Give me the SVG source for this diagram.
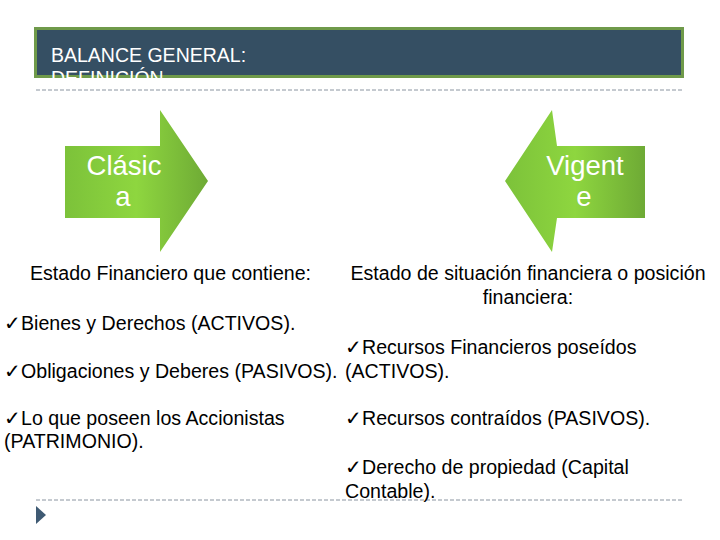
<svg xmlns="http://www.w3.org/2000/svg" width="720" height="540" viewBox="0 0 720 540">
<style>
text{font-family:"Liberation Sans",Arial,sans-serif;fill:#000;font-size:19.6px}
.w{fill:#fff;font-size:27.5px}
.d{stroke:#8a94a0;stroke-width:1;stroke-dasharray:4 2;fill:none}
</style>
<defs>
<linearGradient id="g" x1="0" x2="1"><stop offset="0" stop-color="#7cc23a"/><stop offset="0.5" stop-color="#8ed63f"/><stop offset="1" stop-color="#6eaa35"/></linearGradient>
<clipPath id="c"><rect x="34" y="27" width="650" height="51"/></clipPath>
</defs>
<g id="title">
<rect x="35.5" y="28.5" width="647" height="48" fill="#354f63" stroke="#6f9a4a" stroke-width="3"/>
<g clip-path="url(#c)"><text x="51" y="62" style="fill:#fff;font-size:19.5px">BALANCE GENERAL:</text><text x="51" y="85" style="fill:#fff;font-size:19.5px">DEFINICIÓN</text></g>
</g>
<g id="lines">
<line class="d" x1="36" y1="90" x2="684" y2="90"/>
<line class="d" x1="36" y1="500" x2="684" y2="500"/>
</g>
<g id="clasica">
<polygon points="65,146 160,146 160,110 208,181 160,252 160,218 65,218" fill="url(#g)"/>
<text class="w" x="124" y="175" text-anchor="middle">Clásic</text>
<text class="w" x="123" y="206" text-anchor="middle">a</text>
</g>
<g id="vigente">
<polygon points="645,146 557,146 552,110 505,181 552,252 557,218 645,218" fill="url(#g)"/>
<text class="w" x="585" y="175" text-anchor="middle">Vigent</text>
<text class="w" x="584" y="206" text-anchor="middle">e</text>
</g>
<g id="left">
<text x="30" y="280">Estado Financiero que contiene:</text>
<text x="4" y="330">✓Bienes y Derechos (ACTIVOS).</text>
<text x="4" y="378">✓Obligaciones y Deberes (PASIVOS).</text>
<text x="4" y="425">✓Lo que poseen los Accionistas</text>
<text x="4" y="448">(PATRIMONIO).</text>
</g>
<g id="right">
<text x="528" y="280" text-anchor="middle">Estado de situación financiera o posición</text>
<text x="528" y="304" text-anchor="middle">financiera:</text>
<text x="345" y="354">✓Recursos Financieros poseídos</text>
<text x="345" y="378">(ACTIVOS).</text>
<text x="345" y="425">✓Recursos contraídos (PASIVOS).</text>
<text x="345" y="474">✓Derecho de propiedad (Capital</text>
<text x="345" y="498">Contable).</text>
</g>
<polygon id="bullet" points="36,506 46,515 36,524" fill="#3f5a73"/>
</svg>
